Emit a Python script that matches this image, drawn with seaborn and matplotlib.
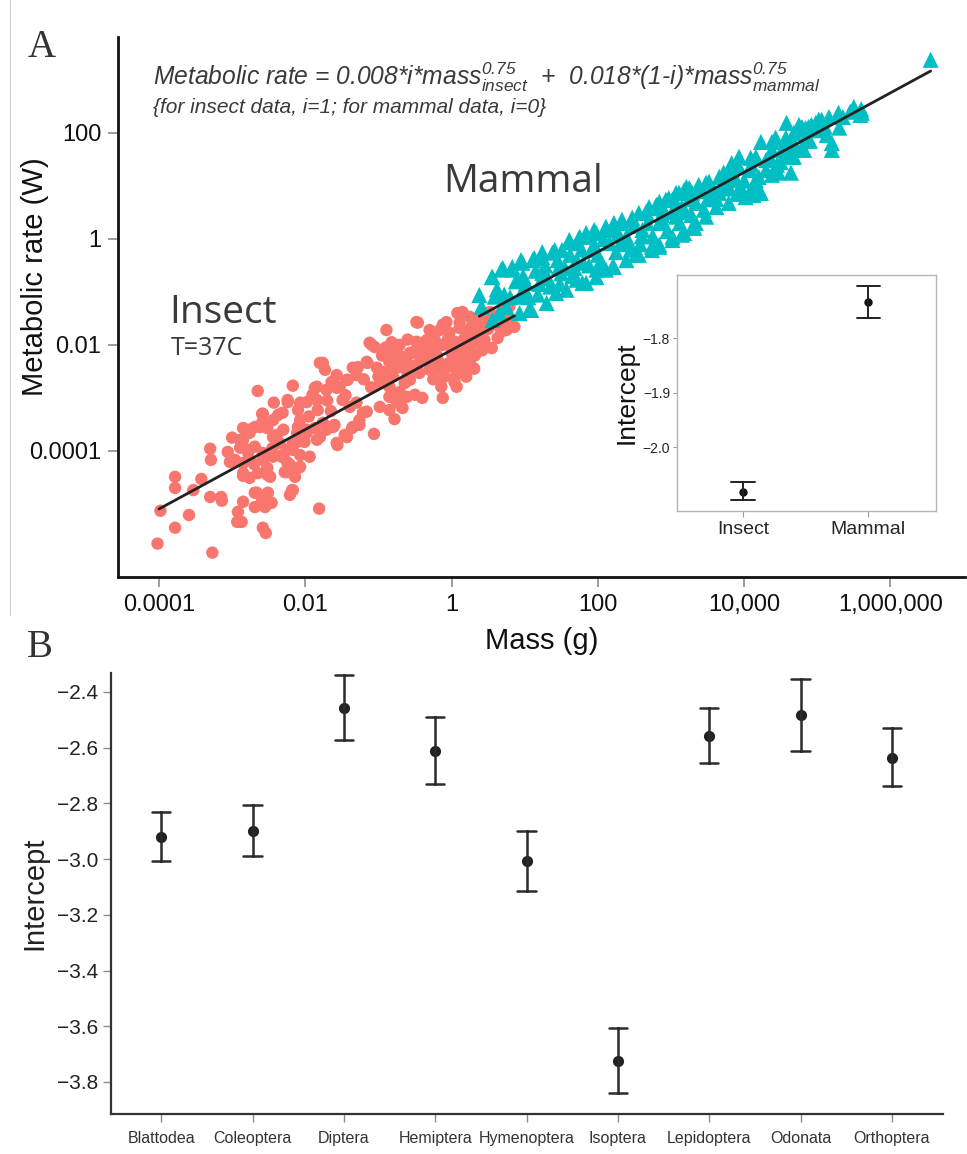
import numpy as np
import pandas as pd
import matplotlib
matplotlib.use("Agg")
import matplotlib.pyplot as plt
import seaborn as sns
from matplotlib.lines import Line2D

# --- Panel A: (log10 mass [g], log10 metabolic rate [W]) ---
insect_obs = [
    (-4.02, -5.75), (-3.98, -5.13), (-3.78, -5.45), (-3.78, -4.70), (-3.78, -4.49), (-3.59, -5.21), (-3.53, -4.74), (-3.42, -4.53),
    (-3.30, -4.87), (-3.27, -5.92), (-3.30, -3.96), (-3.29, -4.17), (-3.15, -4.87), (-3.14, -4.94), (-3.03, -4.21), (-3.06, -4.02),
    (-3.00, -3.75), (-2.92, -5.15), (-2.93, -5.34), (-2.87, -5.34), (-2.85, -4.96), (-2.85, -4.47), (-2.76, -4.51), (-2.89, -3.79),
    (-2.76, -3.60), (-2.80, -3.98), (-2.62, -3.55), (-2.58, -3.30), (-2.66, -4.79), (-2.59, -4.92), (-2.69, -5.06), (-2.55, -5.06),
    (-2.46, -4.98), (-2.44, -3.42), (-2.52, -4.45), (-2.52, -4.32), (-2.58, -5.45), (-2.54, -5.55), (-2.44, -3.74), (-2.44, -4.11),
    (-2.31, -3.28), (-2.31, -4.11), (-2.25, -4.40), (-2.21, -4.83), (-2.17, -4.74), (-2.14, -4.49), (-2.09, -4.32), (-2.11, -3.83),
    (-2.07, -3.42), (-1.98, -3.66), (-1.94, -4.11), (-1.81, -5.09), (-1.80, -3.74), (-1.71, -3.60), (-1.57, -3.85), (-2.43, -3.09),
    (-2.24, -3.08), (-2.65, -2.87), (-2.17, -2.77), (-2.24, -3.04), (-2.59, -3.30), (-2.37, -3.32), (-2.10, -3.23), (-1.98, -3.08),
    (-1.87, -2.81), (-1.84, -3.04), (-1.83, -3.23), (-1.76, -2.34), (-1.73, -2.47), (-1.57, -2.57), (-1.64, -2.70), (-1.57, -2.81),
    (-1.71, -2.85), (-1.42, -2.66), (-1.28, -2.42), (-1.30, -2.57), (-1.15, -2.34), (-1.12, -1.96), (-1.05, -2.04), (-0.89, -1.72),
    (-0.46, -1.58), (-0.80, -2.09), (-0.71, -2.00), (-0.68, -2.23), (-1.02, -2.43), (-0.94, -2.51), (-0.98, -2.72), (-0.89, -2.62),
    (-0.85, -2.32), (-0.75, -2.42), (-0.64, -2.28), (-0.57, -2.15), (-0.48, -2.09), (-0.40, -2.04), (-0.34, -2.23), (-0.50, -2.94),
    (-0.40, -3.00), (-0.78, -3.40), (-0.67, -3.19), (-0.75, -3.08), (-0.85, -2.98), (-0.71, -2.89), (-1.06, -3.68), (-1.21, -3.28),
    (-1.16, -3.26), (-1.30, -3.09), (-1.39, -3.17), (-1.49, -3.04), (-1.26, -3.51), (-1.36, -3.57), (-1.46, -3.70), (-1.56, -3.89),
    (-1.60, -3.51), (-1.69, -3.55), (-2.07, -4.30), (-2.21, -4.26), (-2.32, -4.11), (-2.44, -4.04), (-2.58, -4.17), (-2.39, -3.70),
    (-2.52, -3.57), (-2.59, -3.47), (-2.76, -3.66), (-2.85, -3.79), (-2.89, -3.94), (-2.96, -4.17), (-2.78, -4.04), (-2.69, -3.92),
    (-2.11, -3.66), (-1.98, -3.60), (-1.87, -3.57), (-1.76, -3.47), (-1.84, -3.79), (-2.01, -3.83), (-2.17, -3.85), (-2.24, -3.98),
    (-0.48, -1.57), (-0.30, -1.72), (-0.34, -1.91), (-0.48, -1.94), (-0.07, -1.57), (0.08, -1.40), (0.15, -1.38), (0.25, -1.47),
    (-0.03, -1.77), (0.11, -1.68), (0.27, -1.66), (0.35, -1.53), (0.34, -1.77), (0.48, -1.47), (0.52, -1.38), (0.59, -1.58),
    (0.75, -1.72), (0.86, -1.66), (0.63, -1.87), (0.55, -2.06), (0.38, -1.96), (0.25, -2.06), (0.14, -2.13), (0.01, -2.04),
    (-0.12, -2.00), (-0.26, -2.09), (-0.40, -2.13), (-0.53, -2.15), (-0.61, -2.23), (-0.71, -2.28), (-0.80, -2.15), (-0.74, -2.06),
    (0.25, -2.28), (0.15, -2.42), (0.07, -2.47), (-0.07, -2.43), (-0.16, -2.34), (-0.30, -2.32), (-0.40, -2.25), (0.31, -2.45),
    (0.20, -2.60), (0.04, -2.62), (-0.10, -2.60), (-0.14, -2.79), (0.04, -2.70), (-0.71, -2.42), (-0.80, -2.60), (-0.89, -2.53),
    (-0.64, -2.72), (-0.85, -2.79), (-0.71, -2.91), (0.70, -1.34), (0.79, -1.28), (0.11, -1.58), (-0.12, -1.62), (0.72, -1.58),
    (-0.12, -3.00), (0.07, -2.79), (-1.80, -2.34), (-1.35, -2.43), (-1.16, -2.32), (-1.09, -2.00), (-1.53, -2.79), (-1.43, -2.66),
    (-1.84, -2.79), (-1.90, -2.94), (-2.07, -3.09), (-2.85, -3.57), (-2.69, -3.55), (-2.99, -4.17), (-2.85, -4.23), (-2.58, -4.04),
    (-2.31, -4.08), (-2.65, -4.42), (-2.85, -4.42), (-2.48, -4.49), (-2.69, -4.79), (-2.51, -4.79), (-2.28, -4.40), (-2.17, -4.40),
    (-2.18, -4.74), (-2.25, -4.21), (-2.07, -4.08), (-2.17, -3.98), (-1.62, -3.55), (-1.43, -3.74), (-1.35, -3.55), (-1.26, -3.42),
    (-0.98, -3.17), (-0.85, -3.23), (-0.68, -3.17), (-0.61, -2.98), (-0.57, -2.66), (-0.44, -2.53), (-0.30, -2.47), (-0.03, -2.34),
    (0.11, -2.25), (0.29, -2.43), (-0.16, -1.72), (-0.23, -1.91), (0.38, -1.72), (0.18, -1.87), (0.04, -1.94), (0.45, -1.91),
    (-0.95, -2.20), (-0.90, -2.05), (-0.82, -1.95), (-0.60, -1.90), (-0.55, -2.40), (-0.45, -2.35), (-0.35, -2.00), (-0.25, -1.80),
    (-0.20, -2.20), (-0.18, -2.45), (-0.05, -1.90), (0.00, -2.15), (0.05, -2.30), (0.12, -1.95), (0.18, -2.15), (0.22, -1.75),
    (0.30, -1.85), (0.32, -2.20), (0.40, -1.60), (0.42, -2.10), (0.50, -1.70), (0.55, -1.55), (0.62, -1.45), (0.65, -1.65),
    (0.68, -1.75), (0.78, -1.50), (-1.00, -2.60), (-1.20, -2.65), (-1.10, -2.80), (-0.60, -2.55), (-0.25, -2.65), (-1.45, -2.95),
    (-1.70, -3.05), (-1.95, -3.35), (-2.10, -3.55), (-2.35, -3.85), (-2.45, -3.95), (-2.70, -4.25), (-2.30, -3.60), (-1.65, -3.25),
]

mammal_obs = [
    (0.38, -1.06), (0.41, -1.28), (0.56, -1.53), (0.59, -1.09), (0.65, -1.40), (0.55, -0.72), (0.70, -0.55), (0.83, -0.58),
    (0.95, -0.40), (1.13, -0.36), (1.24, -0.25), (1.41, -0.21), (1.61, -0.02), (1.75, 0.04), (1.84, 0.11), (1.95, 0.17),
    (2.11, 0.23), (2.22, 0.30), (2.33, 0.36), (2.47, 0.40), (2.66, 0.49), (2.84, 0.58), (3.02, 0.74), (3.21, 0.98),
    (3.29, 0.87), (0.75, -1.28), (0.93, -1.09), (1.09, -1.34), (1.30, -1.21), (1.43, -1.02), (1.57, -0.96), (1.71, -0.77),
    (1.84, -0.83), (1.98, -0.58), (2.11, -0.58), (2.22, -0.53), (2.39, -0.40), (2.56, -0.30), (2.74, -0.15), (2.84, -0.11),
    (3.02, -0.02), (3.15, 0.08), (3.29, 0.21), (3.34, 0.30), (1.02, -0.83), (1.24, -0.64), (1.47, -0.53), (1.71, -0.40),
    (1.92, -0.21), (2.16, -0.08), (2.39, 0.04), (2.61, 0.17), (2.84, 0.30), (3.07, 0.42), (6.55, 3.38), (5.50, 2.49),
    (5.59, 2.34), (5.29, 2.38), (5.16, 2.30), (5.06, 2.25), (4.98, 2.19), (4.88, 2.11), (4.79, 2.11), (4.75, 2.06),
    (4.58, 2.19), (5.13, 1.96), (5.20, 1.81), (5.20, 1.68), (4.23, 1.83), (4.43, 1.91), (4.57, 1.91), (4.65, 1.87),
    (4.61, 1.62), (4.79, 1.72), (4.68, 1.55), (4.38, 1.21), (4.47, 1.25), (4.64, 1.25), (3.93, 1.55), (4.09, 1.53),
    (3.93, 1.36), (4.07, 1.30), (4.20, 1.17), (4.13, 0.83), (4.23, 0.87), (3.83, 1.30), (3.75, 1.11), (3.66, 1.17),
    (3.48, 1.06), (3.18, 0.92), (3.07, 0.87), (2.93, 0.74), (2.80, 0.64), (2.66, 0.51), (2.56, 0.49), (2.47, 0.36),
    (2.33, 0.30), (2.20, 0.21), (2.11, 0.17), (1.98, 0.11), (1.84, 0.04), (1.71, -0.08), (1.61, -0.06), (1.51, -0.21),
    (1.38, -0.26), (1.24, -0.34), (1.11, -0.40), (0.97, -0.45), (0.83, -0.53), (0.68, -0.58), (0.56, -0.72), (4.02, 0.79),
    (3.79, 0.68), (3.62, 0.60), (3.48, 0.42), (3.32, 0.21), (3.18, 0.11), (3.02, 0.04), (2.84, -0.15), (2.74, -0.21),
    (2.52, -0.30), (2.20, -0.53), (1.98, -0.72), (1.79, -0.83), (1.06, -1.34), (0.93, -1.40), (5.61, 2.38), (5.02, 2.25),
    (4.92, 2.15), (4.84, 2.09), (4.75, 2.15), (4.68, 2.00), (4.57, 1.87), (4.38, 1.83), (4.82, 1.68), (4.65, 1.55),
    (4.52, 1.68), (4.38, 1.68), (4.30, 1.49), (4.16, 1.55), (3.83, 1.43), (4.16, 1.11), (4.20, 0.87), (4.07, 0.83),
    (3.97, 0.92), (3.52, 1.08), (3.38, 1.02), (3.25, 0.96), (3.11, 0.87), (2.97, 0.77), (2.84, 0.70), (2.70, 0.60),
    (3.89, 1.11), (3.75, 0.98), (3.66, 0.87), (3.52, 0.79), (3.34, 0.68), (3.15, 0.60), (3.02, 0.51), (2.88, 0.45),
    (0.80, -1.10), (1.00, -0.95), (1.20, -0.85), (1.35, -0.90), (1.50, -0.65), (1.65, -0.70), (1.80, -0.45), (2.00, -0.30),
    (2.30, -0.10), (2.45, -0.20), (2.60, 0.05), (2.90, 0.30), (3.20, 0.50), (3.50, 0.75), (3.80, 0.95), (4.00, 1.10),
    (4.30, 1.30), (4.50, 1.45), (4.90, 1.85), (5.30, 2.10), (0.62, -0.95), (0.72, -1.05), (0.88, -0.80), (0.98, -0.70),
    (1.05, -1.10), (1.15, -0.60), (1.18, -1.05), (1.28, -0.50), (1.32, -0.75), (1.45, -0.40), (1.48, -0.85), (1.55, -0.55),
    (1.62, -0.30), (1.68, -0.55), (1.78, -0.20), (1.88, -0.50), (1.95, -0.10), (2.05, -0.45), (2.08, 0.00), (2.25, -0.25),
    (2.28, 0.10), (2.42, -0.05), (2.50, 0.25), (2.58, -0.10), (2.68, 0.30), (2.75, 0.05), (2.90, 0.55), (2.95, 0.15),
    (3.08, 0.65), (3.12, 0.30), (3.25, 0.75), (3.28, 0.45), (3.42, 0.90), (3.45, 0.55), (3.58, 0.95), (3.62, 0.75),
    (3.72, 1.25), (3.85, 1.20), (3.90, 0.85), (4.10, 1.40), (4.12, 1.00), (4.35, 1.55), (4.45, 1.40), (4.55, 1.55),
    (4.70, 1.75), (4.85, 1.95), (5.00, 2.05), (5.10, 2.12), (5.35, 2.30), (5.45, 2.40), (5.60, 2.45),
]

# fitted model shown in the equation
fit_groups = ["Insect", "Mammal"]
fit_coef = [0.008, 0.018]
fit_exponent = 0.75
fit_log_mass_range = [(-4.0, 0.86), (0.38, 6.55)]

# inset: intercept by class
inset_groups = ["Insect", "Mammal"]
inset_est = [-2.083, -1.734]
inset_lo = [-2.097, -1.763]
inset_hi = [-2.064, -1.705]

# --- Panel B: intercept by insect order ---
orders = ["Blattodea", "Coleoptera", "Diptera", "Hemiptera", "Hymenoptera",
          "Isoptera", "Lepidoptera", "Odonata", "Orthoptera"]
order_est = [-2.92, -2.90, -2.457, -2.612, -3.007, -3.725, -2.558, -2.483, -2.637]
order_lo = [-3.007, -2.99, -2.572, -2.730, -3.114, -3.84, -2.655, -2.612, -2.737]
order_hi = [-2.83, -2.806, -2.339, -2.489, -2.899, -3.606, -2.457, -2.353, -2.529]

RED = "#F8766D"
CYAN = "#00BFC4"
INK = "#3a3a3a"

sns.set_theme(style="ticks")
plt.rcParams["font.family"] = ["Liberation Sans", "DejaVu Sans"]
plt.rcParams["mathtext.fontset"] = "custom"
plt.rcParams["mathtext.rm"] = "Liberation Sans:italic"
plt.rcParams["mathtext.it"] = "Liberation Sans:italic"

W, H = 967, 1154
fig = plt.figure(figsize=(W / 100, H / 100), dpi=100)


def box(l, t, r, b):
    return [l / W, 1 - b / H, (r - l) / W, (b - t) / H]


# ---------------- Panel A ----------------
axA = fig.add_axes(box(118, 37, 965, 577))
ins = pd.DataFrame(insect_obs, columns=["lm", "lr"])
mam = pd.DataFrame(mammal_obs, columns=["lm", "lr"])
ins["mass"], ins["rate"] = 10 ** ins["lm"], 10 ** ins["lr"]
mam["mass"], mam["rate"] = 10 ** mam["lm"], 10 ** mam["lr"]

sns.scatterplot(data=ins, x="mass", y="rate", ax=axA, color=RED, marker="o",
                s=80, edgecolor="none", linewidth=0, zorder=2)
sns.scatterplot(data=mam, x="mass", y="rate", ax=axA, color=CYAN, marker="^",
                s=135, edgecolor="none", linewidth=0, zorder=3)

fit_rows = []
for g, c, (a, b) in zip(fit_groups, fit_coef, fit_log_mass_range):
    for lm in (a, b):
        fit_rows.append({"group": g, "mass": 10 ** lm, "rate": c * (10 ** lm) ** fit_exponent})
fit_df = pd.DataFrame(fit_rows)
sns.lineplot(data=fit_df, x="mass", y="rate", units="group", estimator=None,
             color="#222222", linewidth=2.0, ax=axA, zorder=4)

axA.set_xscale("log")
axA.set_yscale("log")
axA.set_xlim(10 ** -4.56, 10 ** 7.02)
axA.set_ylim(10 ** -6.38, 10 ** 3.81)
axA.set_xticks([1e-4, 1e-2, 1, 1e2, 1e4, 1e6])
axA.set_xticklabels(["0.0001", "0.01", "1", "100", "10,000", "1,000,000"],
                    fontfamily=["Liberation Sans Narrow", "Liberation Sans"], fontsize=17)
axA.set_yticks([1e-4, 1e-2, 1, 1e2])
axA.set_yticklabels(["0.0001", "0.01", "1", "100"], fontsize=17)
axA.minorticks_off()
axA.tick_params(axis="both", which="major", color="#8c8c8c", length=7, width=1.2,
                labelcolor="#111111", pad=5)
for side in ("top", "right"):
    axA.spines[side].set_visible(False)
for side in ("left", "bottom"):
    axA.spines[side].set_linewidth(2.0)
    axA.spines[side].set_color("#111111")
axA.set_xlabel("Mass (g)", fontsize=21, fontfamily=["Liberation Sans Narrow", "Liberation Sans"],
               color="#111111", labelpad=8)
axA.set_ylabel("Metabolic rate (W)", fontsize=21, color="#111111")
axA.yaxis.set_label_coords(-0.082, 0.556)

axA.text(0.041, 0.911,
         "Metabolic rate = 0.008*i*mass$^{0.75}_{insect}$  +  0.018*(1-i)*mass$^{0.75}_{mammal}$",
         transform=axA.transAxes, fontsize=17.7, style="italic", color=INK, va="baseline")
axA.text(0.041, 0.859, "{for insect data, i=1; for mammal data, i=0}",
         transform=axA.transAxes, fontsize=15, style="italic", color=INK, va="baseline")
axA.text(0.384, 0.713, "Mammal", transform=axA.transAxes, fontsize=28, color=INK,
         fontfamily=["Open Sans", "Liberation Sans"], va="baseline")
axA.text(0.061, 0.470, "Insect", transform=axA.transAxes, fontsize=28, color=INK,
         fontfamily=["Open Sans", "Liberation Sans"], va="baseline")
axA.text(0.0626, 0.411, "T=37C", transform=axA.transAxes, fontsize=18, color=INK,
         fontfamily=["Open Sans", "Liberation Sans"], va="baseline")

# ---------------- inset ----------------
axI = fig.add_axes(box(677, 275, 936, 511))
inset_long = pd.DataFrame({
    "group": inset_groups * 3,
    "value": inset_lo + inset_est + inset_hi,
})
sns.pointplot(data=inset_long, x="group", y="value", order=inset_groups,
              estimator="median", errorbar=("pi", 100), capsize=0.19,
              color="#111111", linestyle="none", markersize=4,
              err_kws={"linewidth": 1.4, "color": "#222222"}, ax=axI)
axI.set_xlim(-0.53, 1.54)
axI.set_ylim(-2.117, -1.684)
axI.set_yticks([-1.8, -1.9, -2.0])
axI.set_yticklabels(["\u22121.8", "\u22121.9", "\u22122.0"])
axI.set_xlabel("")
axI.set_ylabel("Intercept", fontsize=19, color="#111111", labelpad=3)
axI.tick_params(axis="y", labelsize=10, color="#9a9a9a", length=3, width=0.8, pad=2)
axI.tick_params(axis="x", labelsize=14, color="#9a9a9a", length=4, width=0.8, pad=3)
for side in axI.spines.values():
    side.set_visible(True)
    side.set_color("#b5b5b5")
    side.set_linewidth(1.0)

# ---------------- Panel B ----------------
axB = fig.add_axes(box(111, 673, 943, 1114))
order_long = pd.DataFrame({
    "order": orders * 3,
    "value": order_lo + order_est + order_hi,
})
sns.pointplot(data=order_long, x="order", y="value", order=orders,
              estimator="median", errorbar=("pi", 100), capsize=0.2,
              color="#222222", linestyle="none", markersize=6,
              err_kws={"linewidth": 1.8, "color": "#2b2b2b"}, ax=axB)
axB.set_xlim(-0.55, 8.56)
axB.set_ylim(-3.915, -2.332)
yt = [-2.4, -2.6, -2.8, -3.0, -3.2, -3.4, -3.6, -3.8]
axB.set_yticks(yt)
axB.set_yticklabels([f"\u2212{abs(v):.1f}" for v in yt])
axB.set_xlabel("")
axB.set_ylabel("Intercept", fontsize=21, color="#222222", labelpad=6)
axB.tick_params(axis="y", labelsize=15, color="#8c8c8c", length=6, width=1.0,
                labelcolor="#222222", pad=3)
axB.tick_params(axis="x", labelsize=11.5, color="#8c8c8c", length=6, width=1.0,
                labelcolor="#333333", pad=6)
for side in ("top", "right"):
    axB.spines[side].set_visible(False)
for side in ("left", "bottom"):
    axB.spines[side].set_linewidth(1.6)
    axB.spines[side].set_color("#333333")

# panel letters and the thin rule on the left edge
fig.text(28 / W, 1 - 57 / H, "A", fontsize=28, color="#333333",
         fontfamily=["Liberation Serif", "DejaVu Serif"], va="baseline")
fig.text(27 / W, 1 - 657 / H, "B", fontsize=28, color="#333333",
         fontfamily=["Liberation Serif", "DejaVu Serif"], va="baseline")
fig.add_artist(Line2D([10 / W, 10 / W], [1, 1 - 615 / H], color="#d0d0d0", linewidth=0.8))

fig.savefig("out.png", dpi=100)
